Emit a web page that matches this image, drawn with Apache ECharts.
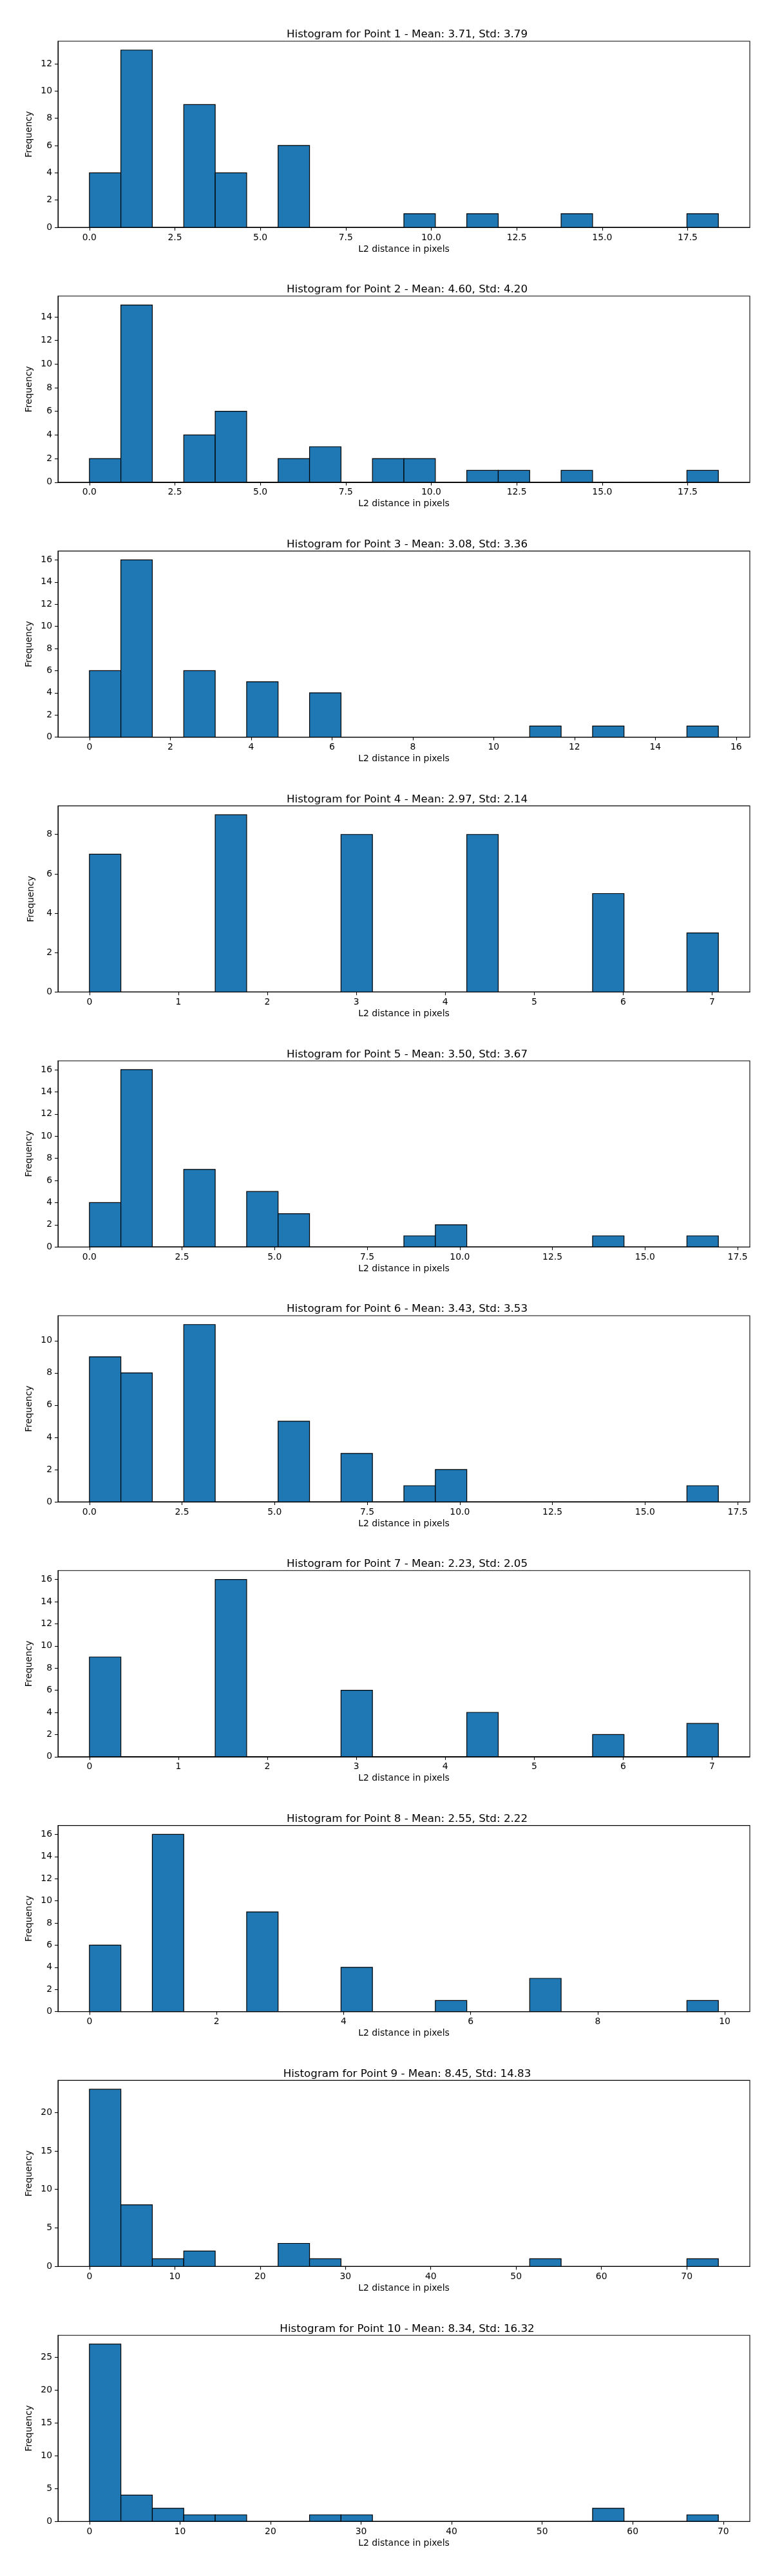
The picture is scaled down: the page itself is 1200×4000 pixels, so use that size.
<!DOCTYPE html>
<html>
<head>
<meta charset="utf-8">
<script src="https://cdn.jsdelivr.net/npm/echarts@6/dist/echarts.min.js"></script>
<style>
  body { margin: 0; background: #fff; }
  #chart { width: 1200px; height: 4000px; }
</style>
</head>
<body>
<div id="chart"></div>
<script>
const titles = [
  "Histogram for Point 1 - Mean: 3.71, Std: 3.79",
  "Histogram for Point 2 - Mean: 4.60, Std: 4.20",
  "Histogram for Point 3 - Mean: 3.08, Std: 3.36",
  "Histogram for Point 4 - Mean: 2.97, Std: 2.14",
  "Histogram for Point 5 - Mean: 3.50, Std: 3.67",
  "Histogram for Point 6 - Mean: 3.43, Std: 3.53",
  "Histogram for Point 7 - Mean: 2.23, Std: 2.05",
  "Histogram for Point 8 - Mean: 2.55, Std: 2.22",
  "Histogram for Point 9 - Mean: 8.45, Std: 14.83",
  "Histogram for Point 10 - Mean: 8.34, Std: 16.32"
];

// range of the 20 bins for each point (min, max distance)
const binLo = [0, 0, 0, 0, 0, 0, 0, 0, 0, 0];
const binHi = [18.4, 18.4, 15.56, 7.07, 16.98, 16.98, 7.07, 9.9, 73.7, 69.46];

const counts1 = [4, 13, 0, 9, 4, 0, 6, 0, 0, 0, 1, 0, 1, 0, 0, 1, 0, 0, 0, 1];
const counts2 = [2, 15, 0, 4, 6, 0, 2, 3, 0, 2, 2, 0, 1, 1, 0, 1, 0, 0, 0, 1];
const counts3 = [6, 16, 0, 6, 0, 5, 0, 4, 0, 0, 0, 0, 0, 0, 1, 0, 1, 0, 0, 1];
const counts4 = [7, 0, 0, 0, 9, 0, 0, 0, 8, 0, 0, 0, 8, 0, 0, 0, 5, 0, 0, 3];
const counts5 = [4, 16, 0, 7, 0, 5, 3, 0, 0, 0, 1, 2, 0, 0, 0, 0, 1, 0, 0, 1];
const counts6 = [9, 8, 0, 11, 0, 0, 5, 0, 3, 0, 1, 2, 0, 0, 0, 0, 0, 0, 0, 1];
const counts7 = [9, 0, 0, 0, 16, 0, 0, 0, 6, 0, 0, 0, 4, 0, 0, 0, 2, 0, 0, 3];
const counts8 = [6, 0, 16, 0, 0, 9, 0, 0, 4, 0, 0, 1, 0, 0, 3, 0, 0, 0, 0, 1];
const counts9 = [23, 8, 1, 2, 0, 0, 3, 1, 0, 0, 0, 0, 0, 0, 1, 0, 0, 0, 0, 1];
const counts10 = [27, 4, 2, 1, 1, 0, 0, 1, 1, 0, 0, 0, 0, 0, 0, 0, 2, 0, 0, 1];

const xTicksHalf = ["0.0", "2.5", "5.0", "7.5", "10.0", "12.5", "15.0", "17.5"];
const xTicksSixteen = ["0", "2", "4", "6", "8", "10", "12", "14", "16"];
const xTicksSeven = ["0", "1", "2", "3", "4", "5", "6", "7"];
const xTicksTen = ["0", "2", "4", "6", "8", "10"];
const xTicksSeventy = ["0", "10", "20", "30", "40", "50", "60", "70"];

const yTicksTwelve = ["0", "2", "4", "6", "8", "10", "12"];
const yTicksFourteen = ["0", "2", "4", "6", "8", "10", "12", "14"];
const yTicksSixteen = ["0", "2", "4", "6", "8", "10", "12", "14", "16"];
const yTicksEight = ["0", "2", "4", "6", "8"];
const yTicksTen = ["0", "2", "4", "6", "8", "10"];
const yTicksTwenty = ["0", "5", "10", "15", "20"];
const yTicksTwentyFive = ["0", "5", "10", "15", "20", "25"];

const allCounts = [counts1, counts2, counts3, counts4, counts5, counts6, counts7, counts8, counts9, counts10];
const xTicks = [xTicksHalf, xTicksHalf, xTicksSixteen, xTicksSeven, xTicksHalf, xTicksHalf, xTicksSeven, xTicksTen, xTicksSeventy, xTicksSeventy];
const yTicks = [yTicksTwelve, yTicksFourteen, yTicksSixteen, yTicksEight, yTicksSixteen, yTicksTen, yTicksSixteen, yTicksSixteen, yTicksTwenty, yTicksTwentyFive];

const font = "DejaVu Sans";
const chart = echarts.init(document.getElementById("chart"), null, { renderer: "canvas" });

const grids = [], xAxes = [], yAxes = [], series = [], titleList = [];

function renderBin(params, api) {
  const topLeft = api.coord([api.value(0), api.value(2)]);
  const bottomRight = api.coord([api.value(1), 0]);
  return {
    type: "rect",
    shape: {
      x: topLeft[0],
      y: topLeft[1],
      width: bottomRight[0] - topLeft[0],
      height: bottomRight[1] - topLeft[1]
    },
    style: { fill: "#1f77b4", stroke: "#000", lineWidth: 1.2 }
  };
}

for (let i = 0; i < 10; i++) {
  const top = 64 + 395.8 * i;
  const lo = binLo[i], hi = binHi[i];
  const w = (hi - lo) / 20;
  const pad = (hi - lo) * 0.05;
  const cnt = allCounts[i];
  const ymax = Math.max(...cnt) * 1.05;

  grids.push({ left: 90, width: 1074, top: top, height: 289, show: true, borderColor: "#000", borderWidth: 1.1, backgroundColor: "#fff" });

  titleList.push({
    text: titles[i],
    left: 627,
    top: top - 25,
    textAlign: "center",
    textStyle: { fontFamily: font, fontSize: 16.7, fontWeight: "normal", color: "#000", lineHeight: 20 }
  });

  const xVals = xTicks[i].map(Number);
  const xLab = {};
  xTicks[i].forEach(t => { xLab[Number(t)] = t; });
  xAxes.push({
    type: "value",
    gridIndex: i,
    min: lo - pad,
    max: hi + pad,
    name: "L2 distance in pixels",
    nameLocation: "middle",
    nameGap: 27,
    nameTextStyle: { fontFamily: font, fontSize: 13.9, color: "#000" },
    axisLine: { show: true, onZero: false, lineStyle: { color: "#000", width: 1.1 } },
    axisTick: { show: true, inside: false, length: 5, customValues: xVals, lineStyle: { color: "#000", width: 1.1 } },
    axisLabel: {
      customValues: xVals,
      margin: 9,
      fontFamily: font, fontSize: 13.9, color: "#000",
      formatter: v => xLab[v] !== undefined ? xLab[v] : String(v)
    },
    splitLine: { show: false }
  });

  const yVals = yTicks[i].map(Number);
  yAxes.push({
    type: "value",
    gridIndex: i,
    min: 0,
    max: ymax,
    name: "Frequency",
    nameLocation: "middle",
    nameGap: 35,
    nameTextStyle: { fontFamily: font, fontSize: 13.9, color: "#000" },
    axisLine: { show: true, onZero: false, lineStyle: { color: "#000", width: 1.1 } },
    axisTick: { show: true, inside: false, length: 5, customValues: yVals, lineStyle: { color: "#000", width: 1.1 } },
    axisLabel: { customValues: yVals, margin: 9, fontFamily: font, fontSize: 13.9, color: "#000" },
    splitLine: { show: false }
  });

  series.push({
    type: "custom",
    xAxisIndex: i,
    yAxisIndex: i,
    renderItem: renderBin,
    encode: { x: [0, 1], y: 2 },
    data: cnt.map((c, k) => [lo + k * w, lo + (k + 1) * w, c])
  });
}

chart.setOption({
  animation: false,
  backgroundColor: "#fff",
  title: titleList,
  grid: grids,
  xAxis: xAxes,
  yAxis: yAxes,
  series: series
});
</script>
</body>
</html>
